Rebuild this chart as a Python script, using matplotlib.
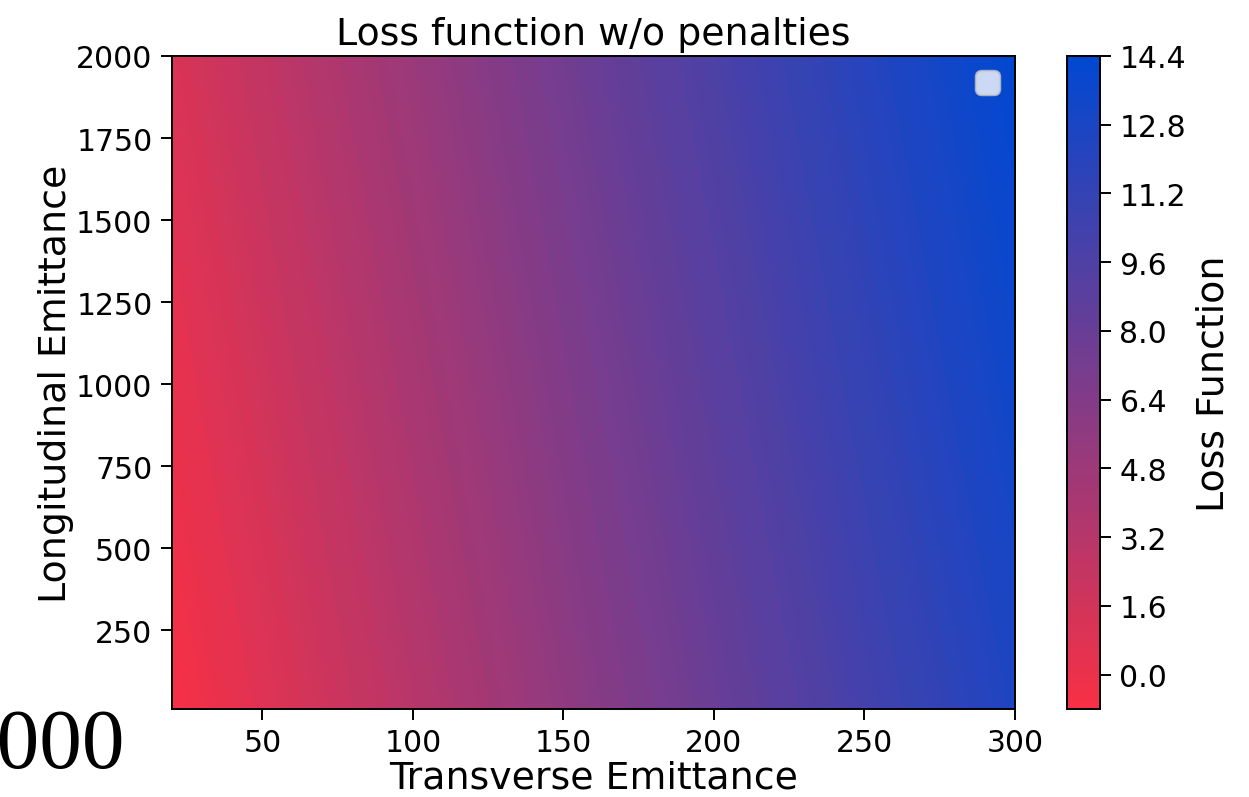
import numpy as np
import matplotlib
matplotlib.use('Agg')
import matplotlib.pyplot as plt
from matplotlib.colors import LinearSegmentedColormap

# Loss surface sampled on a coarse emittance grid
transverse = [20, 160, 300]
longitudinal = [10, 1000, 2000]
loss = [
    [-0.72, 6.05, 12.50],
    [0.20, 6.95, 13.45],
    [1.12, 7.90, 14.36],
]

W, H, DPI = 1249, 798, 175
plt.rcParams['xtick.labelsize'] = 12.3
plt.rcParams['ytick.labelsize'] = 12.3
plt.rcParams['xtick.major.size'] = 4.5
plt.rcParams['ytick.major.size'] = 4.5

fig = plt.figure(figsize=(W / DPI, H / DPI), dpi=DPI)
ax = fig.add_axes([172 / W, 1 - 710 / H, (1015 - 172) / W, (710 - 57) / H])
cax = fig.add_axes([1067 / W, 1 - 710 / H, (1100 - 1067) / W, (710 - 57) / H])

cmap = LinearSegmentedColormap.from_list('red_blue', ['#f83044', '#0048d2'])
X, Y = np.meshgrid(transverse, longitudinal)
levels = np.arange(-0.8, 14.41, 0.2)
cs = ax.contourf(X, Y, np.array(loss), levels=levels, cmap=cmap)

cbar = fig.colorbar(cs, cax=cax)
cbar.set_label('Loss Function', fontsize=15.6)

ax.set_title('Loss function w/o penalties', fontsize=15.6, pad=5)
ax.set_xlabel('Transverse Emittance', fontsize=15.6, labelpad=1)
ax.set_ylabel('Longitudinal Emittance', fontsize=15.6, labelpad=1)
ax.set_xticks([50, 100, 150, 200, 250, 300])
ax.set_yticks([250, 500, 750, 1000, 1250, 1500, 1750, 2000])
ax.legend(handles=[], loc='upper right', fontsize=12.3)

fig.text(125 / W, 1 - 768 / H, '2000', ha='right', va='baseline',
         fontsize=35, family='Liberation Serif')

fig.savefig('out.png', dpi=DPI)
